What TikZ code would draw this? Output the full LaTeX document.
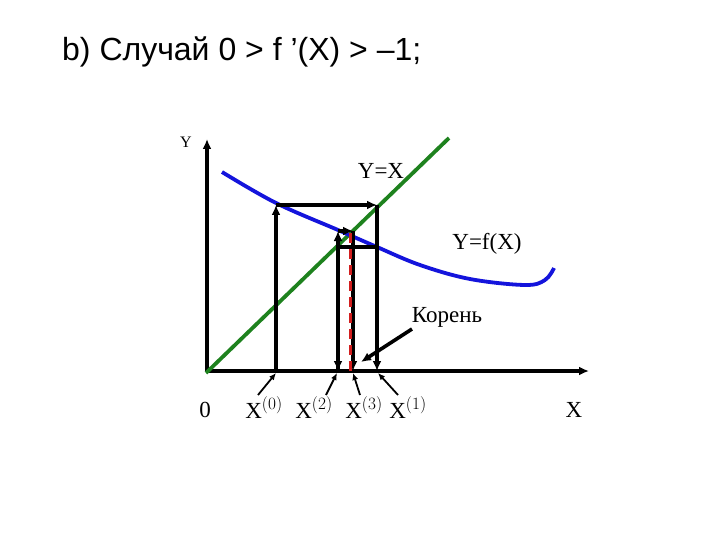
\documentclass[tikz,border=0pt]{standalone}
\usepackage{fontspec}
\setmainfont{Liberation Serif}
\newfontfamily\titlefont{Liberation Sans}
\usetikzlibrary{arrows.meta}

\definecolor{lineg}{RGB}{30,130,30}
\definecolor{curveb}{RGB}{20,20,220}
\definecolor{rootred}{RGB}{210,30,30}

\begin{document}
\begin{tikzpicture}[x=1pt,y=-1pt,>={Latex[length=10pt,width=9pt]},
  axisline/.style={line width=4.5pt,->},
  cobline/.style={line width=3.4pt},
  cobarrow/.style={line width=3.4pt,->},
  pointer/.style={line width=1.8pt,-{Latex[length=7pt,width=6pt]}},
  lbl/.style={inner sep=0pt,font=\fontsize{23}{25}\selectfont}]
  \useasboundingbox (0,0) rectangle (720,540);
  \node[anchor=base west,inner sep=0pt,font=\titlefont\fontsize{32}{36}\selectfont]
    (title) at (62,61) {b) Случай 0 > f ’(X) > –1;};
  % оси
  \coordinate (O) at (207,371);
  \coordinate (ytip) at (207,139);
  \coordinate (xtip) at (589,371);
  \draw[axisline] (O) -- (ytip);
  \draw[axisline] (O) -- (xtip);
  % Y=X
  \coordinate (g0) at (206,373);
  \coordinate (g1) at (449,138);
  \draw[lineg,line width=3.8pt] (g0) -- (g1);
  % Y=f(X)
  \draw[curveb,line width=3.8pt,smooth,tension=0.6] plot coordinates {
    (222,172) (276,203) (338,230) (377,247) (420,265) (470,279)
    (525,285) (545,280) (554,268)};
  % точки итераций
  \coordinate (x0) at (276,371); \coordinate (c0) at (276,205);
  \coordinate (l0) at (377,205); \coordinate (x1) at (377,371);
  \coordinate (c1) at (377,247); \coordinate (l1) at (338,247);
  \coordinate (x2) at (338,371); \coordinate (c2) at (338,231);
  \coordinate (l2) at (353,231); \coordinate (x3) at (353,371);
  \draw[cobarrow] (x0) -- (c0);
  \draw[cobarrow] (c0) -- (l0);
  \draw[cobarrow] (l0) -- (x1);
  \draw[cobline] (c1) -- (l1);
  \draw[cobarrow] (l1) -- (x2);
  \draw[cobarrow] (x2) -- (c2);
  \draw[cobarrow] (c2) -- (l2);
  \draw[cobarrow] (l2) -- (x3);
  % корень
  \coordinate (r0) at (350,233); \coordinate (r1) at (350,371);
  \draw[rootred,line width=3pt,dash pattern=on 10pt off 6pt] (r0) -- (r1);
  % подписи
  \node[lbl,font=\fontsize{16}{18}\selectfont] (ylab) at (186,142) {Y};
  \node[lbl] (yx) at (381,171) {Y=X};
  \node[lbl] (yfx) at (487,244) {Y=f(X)};
  \node[lbl] (kor) at (447,317) {Корень};
  \node[lbl] (zero) at (205,410) {0};
  \node[lbl] (lx0) at (264,408) {X$^{(0)}$};
  \node[lbl] (lx2) at (314,408) {X$^{(2)}$};
  \node[lbl] (lx3) at (364,408) {X$^{(3)}$};
  \node[lbl] (lx1) at (408,408) {X$^{(1)}$};
  \node[lbl] (xlab) at (574,410) {X};
  \coordinate (k0) at (412,329); \coordinate (k1) at (361,362);
  \draw[line width=3.6pt,->] (k0) -- (k1);
  \coordinate (p0) at (258,395); \coordinate (p2) at (326,395);
  \coordinate (p3) at (360,395); \coordinate (p1) at (398,395);
  \coordinate (a0) at (276,373); \coordinate (a2) at (337,373);
  \coordinate (a3) at (353,373); \coordinate (a1) at (378,373);
  \draw[pointer] (p0) -- (a0);
  \draw[pointer] (p2) -- (a2);
  \draw[pointer] (p3) -- (a3);
  \draw[pointer] (p1) -- (a1);
\end{tikzpicture}
\end{document}
